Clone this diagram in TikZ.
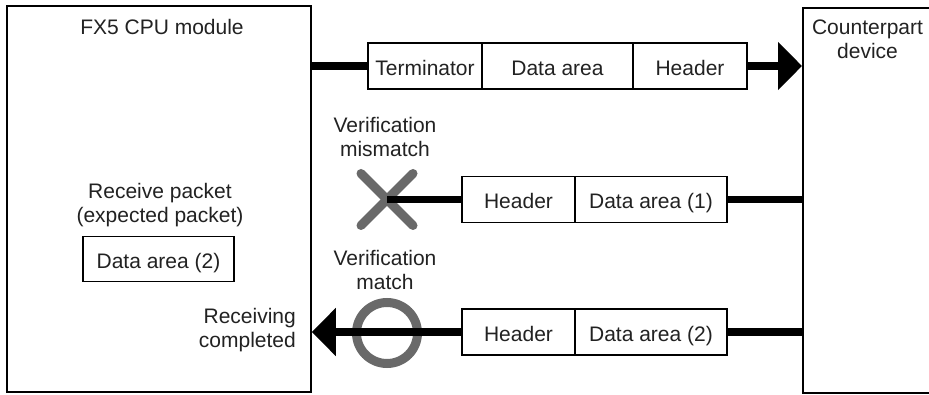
\documentclass[tikz,border=0pt]{standalone}
\usepackage{fontspec}
\setmainfont{Liberation Sans}
\usetikzlibrary{arrows.meta,calc}
\definecolor{markgray}{HTML}{696969}
\definecolor{txt}{HTML}{222222}
\tikzset{
  frame/.style={draw=black, line width=1.8pt, inner sep=0pt},
  pkt/.style={draw=black, line width=1.8pt, inner sep=0pt, minimum height=46pt, text height=22pt, text depth=3pt, text=txt, font=\fontsize{21}{24}\selectfont},
  lbl/.style={inner sep=0pt, text=txt, font=\fontsize{21}{24}\selectfont, align=center},
  conn/.style={line width=7.5pt},
  bigarrow/.style={line width=7.5pt, -{Triangle[length=24pt,width=47pt]}},
  verimark/.style={draw=markgray, line width=9pt},
}
\begin{document}
\begin{tikzpicture}[x=1pt,y=-1pt]
\clip (0,0) rectangle (929,395);
\fill[white] (0,0) rectangle (929,395);
% main boxes
\node[frame, minimum width=304pt, minimum height=386pt] (cpu) at (159,199) {};
\node[frame, minimum width=200pt, minimum height=385pt, anchor=north west] (dev) at (802,7) {};
\node[lbl] (cputxt) at (162,27) {FX5 CPU module};
\node[lbl] (devtxt) at (867.5,39) {Counterpart\\device};
% top packet
\node[pkt, minimum width=114pt] (term) at (425,66) {Terminator};
\node[pkt, minimum width=151pt] (da0) at (557.5,66) {Data area};
\node[pkt, minimum width=114pt] (hd0) at (690,66) {Header};
% middle packet
\node[pkt, minimum width=113pt] (hd1) at (518.5,199.5) {Header};
\node[pkt, minimum width=152pt] (da1) at (651,199.5) {Data area (1)};
% bottom packet
\node[pkt, minimum width=113pt] (hd2) at (518.5,332) {Header};
\node[pkt, minimum width=152pt] (da2) at (651,332) {Data area (2)};
% expected packet
\node[lbl] (rcv) at (160,205) {Receive packet\\(expected packet)};
\node[pkt, minimum width=151pt, minimum height=45pt] (exp) at (158.5,259) {Data area (2)};
% labels
\node[lbl] (vmis) at (385,137) {Verification\\mismatch};
\node[lbl] (vmat) at (385,270) {Verification\\match};
\node[lbl, align=right, anchor=east] (rcvd) at (296,330) {Receiving\\completed};
% marks
\coordinate (xc) at (387,199.5);
\coordinate (oc) at (387,333);
\draw[verimark, line cap=round] ($(xc)+(-26,-26)$) -- ($(xc)+(26,26)$);
\draw[verimark, line cap=round] ($(xc)+(-26,26)$) -- ($(xc)+(26,-26)$);
\draw[verimark] (oc) circle[radius=30.5pt];
% connectors
\draw[conn] (term.west -| cpu.east) -- (term.west);
\draw[bigarrow] (hd0.east) -- (hd0.east -| dev.west);
\draw[conn] (dev.west |- da1.east) -- (da1.east);
\draw[conn] (hd1.west) -- (xc);
\draw[conn] (dev.west |- da2.east) -- (da2.east);
\draw[bigarrow] (hd2.west) -- (hd2.west -| cpu.east);
\end{tikzpicture}
\end{document}
